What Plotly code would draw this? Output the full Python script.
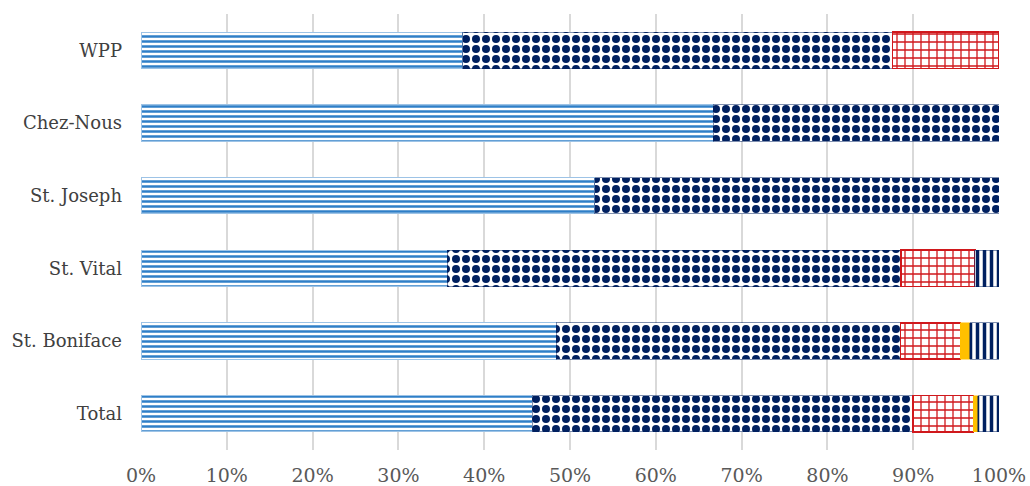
import plotly.graph_objects as go

# ---- data (percent of each row) ----
categories = ["WPP", "Chez-Nous", "St. Joseph", "St. Vital", "St. Boniface", "Total"]
series_names = ["Série 1", "Série 2", "Série 3", "Série 4", "Série 5"]
s1 = [37.5, 66.7, 52.9, 35.7, 48.4, 45.6]
s2 = [50.1, 33.3, 47.1, 52.9, 40.1, 44.4]
s3 = [12.4, 0.0, 0.0, 8.6, 7.0, 7.0]
s4 = [0.0, 0.0, 0.0, 0.0, 1.1, 0.5]
s5 = [0.0, 0.0, 0.0, 2.8, 3.4, 2.5]
tick_vals = [0, 10, 20, 30, 40, 50, 60, 70, 80, 90, 100]
tick_text = ["0%", "10%", "20%", "30%", "40%", "50%", "60%", "70%", "80%", "90%", "100%"]

styles = [
    dict(pattern=dict(shape="-", fgcolor="#2f7fc8", bgcolor="#ffffff", size=5, solidity=0.5, fgopacity=1),
         line=dict(color="#9dc3e6", width=1)),
    dict(pattern=dict(shape=".", fgcolor="#002060", bgcolor="#ffffff", size=10, solidity=0.5, fgopacity=1),
         line=dict(color="#002060", width=0.5)),
    dict(pattern=dict(shape="+", fgcolor="#d0181c", bgcolor="#ffffff", size=8, solidity=0.3, fgopacity=1),
         line=dict(color="#d0181c", width=1.5)),
    dict(pattern=None, color="#ffc000", line=dict(color="#ffc000", width=0.5)),
    dict(pattern=dict(shape="|", fgcolor="#002060", bgcolor="#ffffff", size=7, solidity=0.5, fgopacity=1),
         line=dict(color="#002060", width=0.5)),
]

fig = go.Figure()
for name, vals, st in zip(series_names, [s1, s2, s3, s4, s5], styles):
    marker = dict(line=st["line"])
    if st.get("pattern"):
        marker["pattern"] = st["pattern"]
        marker["color"] = "#ffffff"
    else:
        marker["color"] = st["color"]
    fig.add_trace(go.Bar(
        y=categories, x=[v if v > 0 else None for v in vals], name=name,
        orientation="h", marker=marker, hovertemplate="%{y}: %{x:.1f}%<extra>" + name + "</extra>",
    ))

fig.update_layout(
    barmode="stack", bargap=0.5,
    width=1030, height=486,
    margin=dict(l=141, r=31, t=14, b=36),
    paper_bgcolor="#ffffff", plot_bgcolor="#ffffff",
    showlegend=False,
    font=dict(family="DejaVu Serif", color="#404040"),
)
fig.update_xaxes(range=[0, 100], tickvals=tick_vals, ticktext=tick_text,
                 showgrid=True, gridcolor="#d9d9d9", gridwidth=1.5,
                 zeroline=False, showline=False, ticklabelstandoff=12, automargin=False,
                 tickfont=dict(size=19, color="#595959", family="DejaVu Serif"))
fig.update_yaxes(categoryorder="array", categoryarray=categories, autorange="reversed",
                 showgrid=False, zeroline=False, showline=False, ticks="",
                 ticklabelstandoff=18, automargin=False,
                 tickfont=dict(size=18, color="#404040", family="DejaVu Serif"))

fig.write_html("out.html")
